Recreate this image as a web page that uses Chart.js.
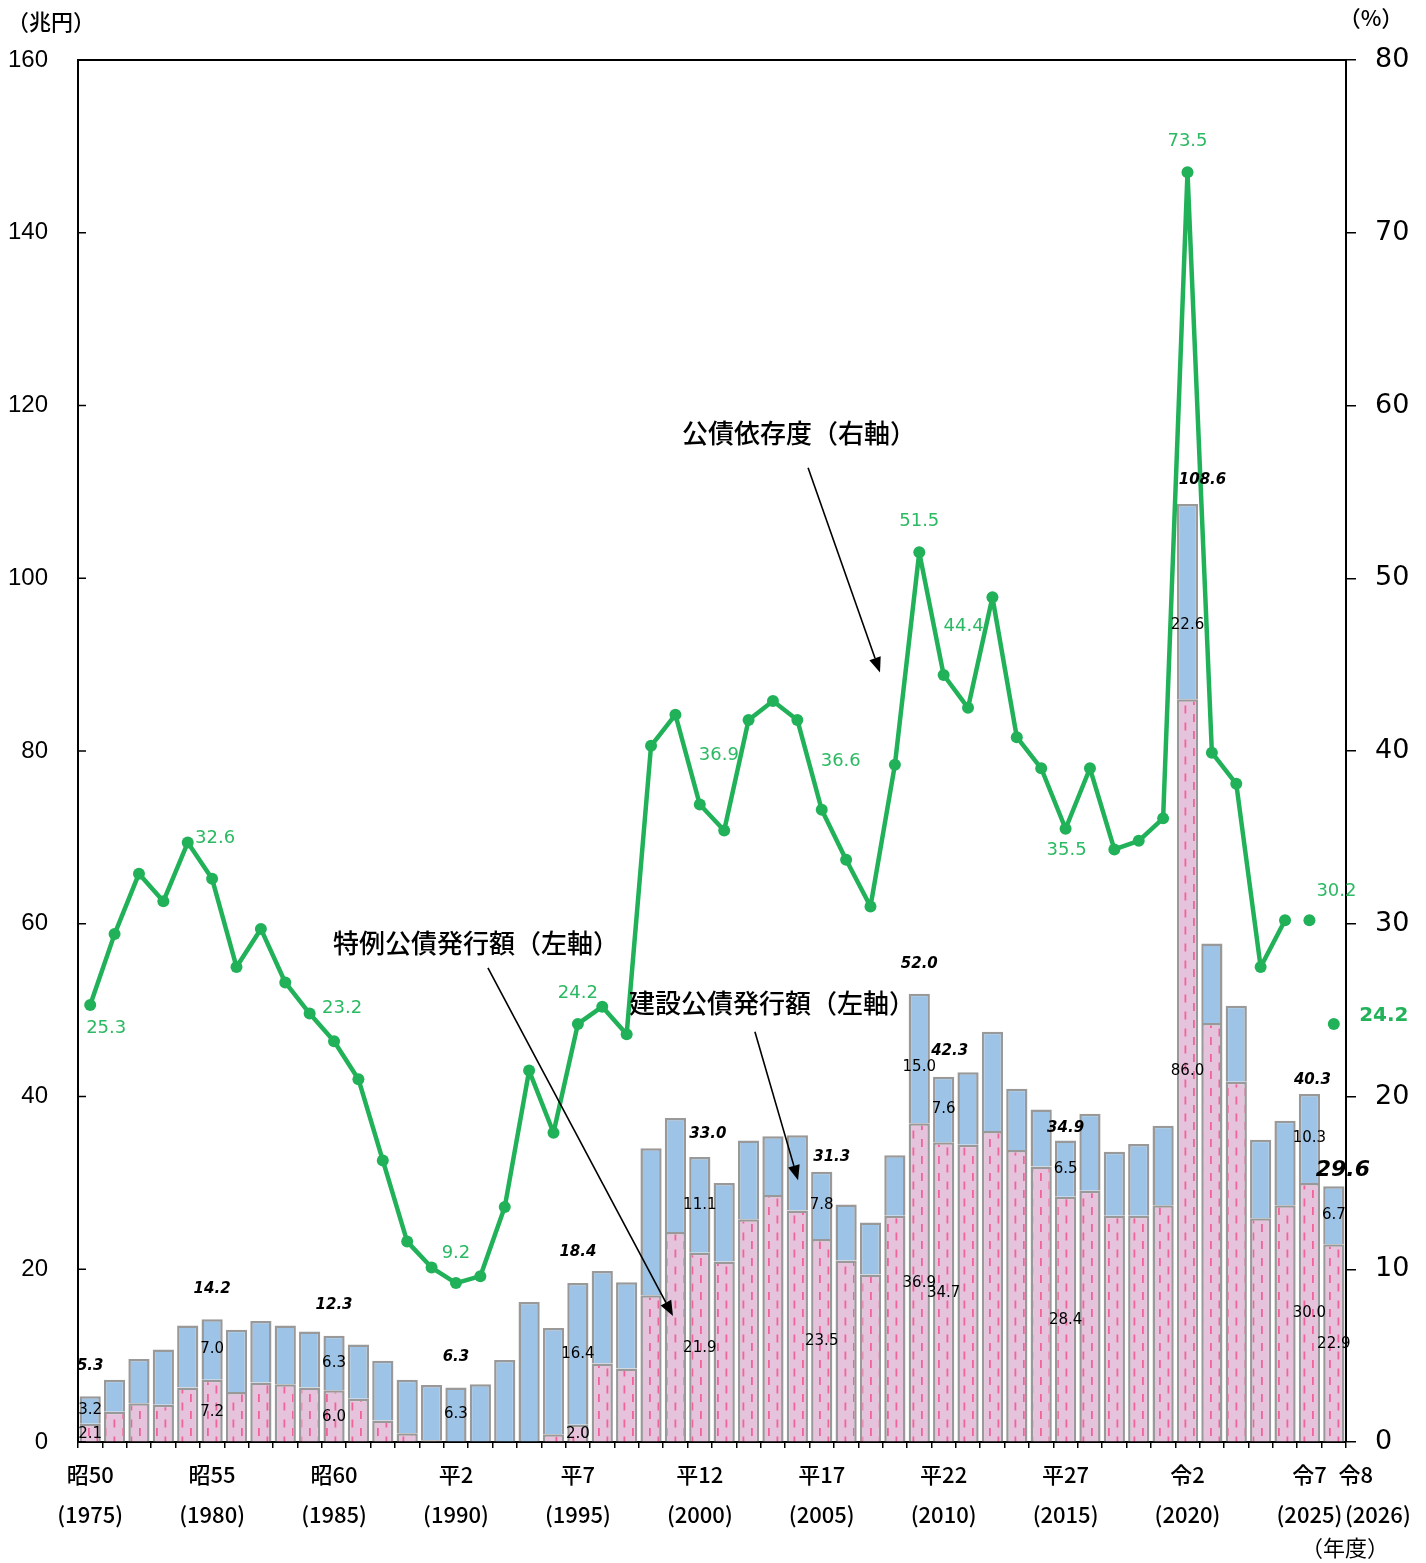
<!DOCTYPE html>
<html><head><meta charset="utf-8">
<script src="https://cdn.jsdelivr.net/npm/chart.js@4.4.1/dist/chart.umd.min.js"></script>
<style>html,body{margin:0;padding:0;background:#fff}canvas{display:block}</style>
</head><body>
<canvas id="c" width="1426" height="1563"></canvas>
<script>
// ---------------- DATA ----------------
const years = [1975,1976,1977,1978,1979,1980,1981,1982,1983,1984,
  1985,1986,1987,1988,1989,1990,1991,1992,1993,1994,
  1995,1996,1997,1998,1999,2000,2001,2002,2003,2004,
  2005,2006,2007,2008,2009,2010,2011,2012,2013,2014,
  2015,2016,2017,2018,2019,2020,2021,2022,2023,2024,
  2025,2026];
const eraLabels = ['昭50','','','','','昭55','','','','',
  '昭60','','','','','平2','','','','',
  '平7','','','','','平12','','','','',
  '平17','','','','','平22','','','','',
  '平27','','','','','令2','','','','',
  '令7','令8'];
const yearLabels = ['(1975)','','','','','(1980)','','','','',
  '(1985)','','','','','(1990)','','','','',
  '(1995)','','','','','(2000)','','','','',
  '(2005)','','','','','(2010)','','','','',
  '(2015)','','','','','(2020)','','','','',
  '(2025)','(2026)'];
// 特例公債発行額（兆円）
const specialBonds = [2.1,3.5,4.5,4.3,6.3,7.2,5.8,6.9,6.7,6.3,
  6.0,5.0,2.5,1.0,0.2,0.0,0.0,0.0,0.0,0.9,
  2.0,9.1,8.5,17.0,24.3,21.9,20.9,25.8,28.6,26.8,
  23.5,21.0,19.4,26.2,36.9,34.7,34.4,36.0,33.8,31.9,
  28.4,29.1,26.2,26.2,27.4,86.0,48.5,41.7,25.9,27.4,
  30.0,22.9];
// 建設公債発行額（兆円）
const constructionBonds = [3.2,3.7,5.1,6.4,7.2,7.0,7.2,7.1,6.8,6.5,
  6.3,6.3,6.9,6.2,6.4,6.3,6.7,9.5,16.2,12.3,
  16.4,10.7,10.0,17.0,13.2,11.1,9.1,9.1,6.8,8.7,
  7.8,6.5,6.0,7.0,15.0,7.6,8.4,11.5,7.1,6.6,
  6.5,8.9,7.4,8.3,9.2,22.6,9.2,8.8,9.1,9.8,
  10.3,6.7];
// 公債発行額合計（兆円）
const totalBonds = [5.3,7.2,9.6,10.7,13.5,14.2,13.0,14.0,13.5,12.8,
  12.3,11.3,9.4,7.2,6.6,6.3,6.7,9.5,16.2,13.2,
  18.4,19.8,18.5,34.0,37.5,33.0,30.0,34.9,35.4,35.5,
  31.3,27.5,25.4,33.2,52.0,42.3,42.8,47.5,40.9,38.5,
  34.9,38.0,33.6,34.5,36.6,108.6,57.7,50.5,35.0,37.2,
  40.3,29.6];
// 公債依存度（%）
const dependencyRatio = [25.3,29.4,32.9,31.3,34.7,32.6,27.5,29.7,26.6,24.8,
  23.2,21.0,16.3,11.6,10.1,9.2,9.6,13.6,21.5,17.9,
  24.2,25.2,23.6,40.3,42.1,36.9,35.4,41.8,42.9,41.8,
  36.6,33.7,31.0,39.2,51.5,44.4,42.5,48.9,40.8,39.0,
  35.5,39.0,34.3,34.8,36.1,73.5,39.9,38.1,27.5,30.2,
  30.2,24.2];
const labeledIdx = [0,5,10,15,20,25,30,34,35,40,45,50,51];
const specialLabeledIdx = [0,5,10,20,25,30,34,35,40,45,50,51];
const lastConnectedIdx = 49;

// ---------------- STYLE ----------------
const GREEN = '#21b259';
const GREEN_TXT = '#2cb963';
const NUM_FONT = 'DejaVu Sans';
const JP_FONT = 'Noto Sans CJK JP';
const totalOff = {0:[0,-30],5:[0,-30],10:[0,-31],15:[0,-30],20:[0,-31],25:[8,-23],30:[10,-15],34:[0,-30],35:[6,-26],40:[0,-12],45:[15,-24],50:[3,-14],51:[9,-16]};
const constrOff = {34:9,45:24};
const ratioOff = {0:[16,23],5:[3,-41],10:[8,-33],15:[0,-30],20:[0,-31],25:[19,-49],30:[19,-48],34:[0,-31],35:[20,-49],40:[1,22],45:[0,-31],50:[27,-29],51:[50,-8]};

const canvas = document.getElementById('c');
const ctx0 = canvas.getContext('2d');
function makePattern(){
  const c = document.createElement('canvas'); c.width = 17; c.height = 17;
  const g = c.getContext('2d');
  g.fillStyle = '#e6c3dc'; g.fillRect(0,0,17,17);
  g.fillStyle = '#f0649a';
  g.fillRect(3,0,1.8,8); g.fillRect(11.5,8.5,1.8,8);
  return ctx0.createPattern(c,'repeat');
}
const pinkPattern = makePattern();

const decoPlugin = {
  id:'deco',
  afterDatasetsDraw(chart){
    const ctx = chart.ctx, a = chart.chartArea;
    const xs = chart.scales.x, yL = chart.scales.yL;
    ctx.save();
    // top border + inward left ticks
    ctx.strokeStyle = '#000'; ctx.lineWidth = 2;
    ctx.beginPath(); ctx.moveTo(a.left-1, a.top); ctx.lineTo(a.right+1, a.top); ctx.stroke();
    ctx.lineWidth = 1.5;
    ctx.beginPath();
    yL.ticks.forEach(t => { const py = yL.getPixelForValue(t.value); ctx.moveTo(a.left, py); ctx.lineTo(a.left+8, py); });
    ctx.stroke();

    const sMeta = chart.getDatasetMeta(0), cMeta = chart.getDatasetMeta(1), lMeta = chart.getDatasetMeta(2);
    ctx.textAlign = 'center'; ctx.textBaseline = 'middle';
    // total labels
    labeledIdx.forEach(i => {
      const el = cMeta.data[i]; const o = totalOff[i];
      ctx.font = (i === 51 ? 'italic bold 22px ' : 'italic bold 15px ') + NUM_FONT;
      ctx.fillStyle = '#000';
      ctx.fillText(totalBonds[i].toFixed(1), el.x + o[0], el.y + o[1]);
    });
    // construction labels
    ctx.font = '15px ' + NUM_FONT;
    labeledIdx.forEach(i => {
      const el = cMeta.data[i];
      ctx.fillText(constructionBonds[i].toFixed(1), el.x, (el.y + el.base)/2 + (constrOff[i]||0));
    });
    // special labels
    specialLabeledIdx.forEach(i => {
      const el = sMeta.data[i];
      ctx.fillText(specialBonds[i].toFixed(1), el.x, (el.y + el.base)/2 + 1);
    });
    // ratio labels
    labeledIdx.forEach(i => {
      const el = lMeta.data[i]; const o = ratioOff[i];
      if (i === 51) { ctx.font = 'bold 20px ' + NUM_FONT; ctx.fillStyle = '#22b35a'; }
      else { ctx.font = '18px ' + NUM_FONT; ctx.fillStyle = GREEN_TXT; }
      ctx.fillText(dependencyRatio[i].toFixed(1), el.x + o[0], el.y + o[1]);
    });

    // annotations (anchored in data space)
    const P = (idx, v) => [xs.getPixelForValue(idx), yL.getPixelForValue(v)];
    const notes = [
      {text:'公債依存度（右軸）', t:[29.07,116.8], s:[29.44,112.8], e:[32.39,89.1]},
      {text:'特例公債発行額（左軸）', t:[15.82,57.8], s:[16.31,54.9], e:[23.9,14.6]},
      {text:'建設公債発行額（左軸）', t:[27.96,50.8], s:[27.26,47.5], e:[29.03,30.3]}
    ];
    notes.forEach(n => {
      const [tx,ty] = P(...n.t), [sx,sy] = P(...n.s), [ex,ey] = P(...n.e);
      ctx.font = '500 26px ' + JP_FONT; ctx.fillStyle = '#000';
      ctx.fillText(n.text, tx, ty);
      ctx.strokeStyle = '#000'; ctx.lineWidth = 1.6;
      const ang = Math.atan2(ey-sy, ex-sx);
      const hl = 15, hw = 6;
      const bx = ex - hl*Math.cos(ang), by = ey - hl*Math.sin(ang);
      ctx.beginPath(); ctx.moveTo(sx,sy); ctx.lineTo(bx,by); ctx.stroke();
      ctx.beginPath(); ctx.moveTo(ex,ey);
      ctx.lineTo(bx + hw*Math.sin(ang), by - hw*Math.cos(ang));
      ctx.lineTo(bx - hw*Math.sin(ang), by + hw*Math.cos(ang));
      ctx.closePath(); ctx.fill();
    });

    // unit labels
    ctx.fillStyle = '#000'; ctx.font = '500 22px ' + JP_FONT;
    ctx.fillText('（兆円）', a.left - 27, a.top - 38);
    ctx.fillText('（%）', a.right + 25, a.top - 42);
    ctx.font = '22px ' + JP_FONT;
    ctx.fillText('（年度）', a.right - 1, chart.height - 15);
    ctx.restore();
  }
};

new Chart(canvas, {
  data: {
    labels: years.map(String),
    datasets: [
      {type:'bar', label:'特例公債発行額（左軸）', data: specialBonds, yAxisID:'yL', stack:'s', order:1,
       backgroundColor: pinkPattern, borderColor:'#999999', borderWidth:2.5, borderSkipped:'start',
       barPercentage:0.87, categoryPercentage:1.0},
      {type:'bar', label:'建設公債発行額（左軸）', data: constructionBonds, yAxisID:'yL', stack:'s', order:2,
       backgroundColor:'#9dc3e6', borderColor:'#999999', borderWidth:2.5, borderSkipped:'start',
       barPercentage:0.87, categoryPercentage:1.0},
      {type:'line', label:'公債依存度（右軸）', data: dependencyRatio, yAxisID:'yR', order:0,
       borderColor: GREEN, backgroundColor: GREEN, borderWidth:4.5, borderJoinStyle:'round', borderCapStyle:'round',
       pointRadius:6, pointHoverRadius:6,
       pointBackgroundColor: GREEN, pointBorderWidth:0, tension:0,
       segment:{ borderColor: c => c.p0DataIndex >= lastConnectedIdx ? 'rgba(0,0,0,0)' : GREEN }}
    ]
  },
  options: {
    responsive:false, animation:false, devicePixelRatio:1,
    layout:{ padding:{ top:60, left:0, right:0, bottom:0 } },
    plugins:{ legend:{display:false}, tooltip:{enabled:false} },
    scales:{
      x:{ stacked:true, offset:true,
          grid:{ display:true, drawOnChartArea:false, drawTicks:true, tickLength:6, color:'#000', lineWidth:1.5, offset:true },
          border:{ display:true, color:'#000', width:2 },
          ticks:{ autoSkip:false, maxRotation:0, minRotation:0, padding:7, color:'#000',
                  font:{ family:JP_FONT, size:22, weight:'500', lineHeight:40/22 },
                  callback:(v,i) => {
                    if (!eraLabels[i]) return '';
                    if (i === 51) return ['\u3000\u3000' + eraLabels[i], '\u3000\u3000\u3000\u3000' + yearLabels[i]];
                    return [eraLabels[i], yearLabels[i]];
                  } },
          afterFit: s => { s.height = 121; } },
      yL:{ position:'left', stacked:true, min:0, max:160,
           grid:{ display:true, drawOnChartArea:false, drawTicks:false },
           border:{ display:true, color:'#000', width:2 },
           ticks:{ stepSize:20, padding:30, color:'#000', font:{ family:'Liberation Sans', size:24 } },
           afterFit: s => { s.width = 78; } },
      yR:{ position:'right', min:0, max:80,
           grid:{ display:true, drawOnChartArea:false, drawTicks:true, tickLength:10, color:'#000', lineWidth:1.5 },
           border:{ display:true, color:'#000', width:2 },
           ticks:{ stepSize:10, padding:19, color:'#000', font:{ family:NUM_FONT, size:27 } },
           afterFit: s => { s.width = 80; } }
    }
  },
  plugins:[decoPlugin]
});
</script>
</body></html>
